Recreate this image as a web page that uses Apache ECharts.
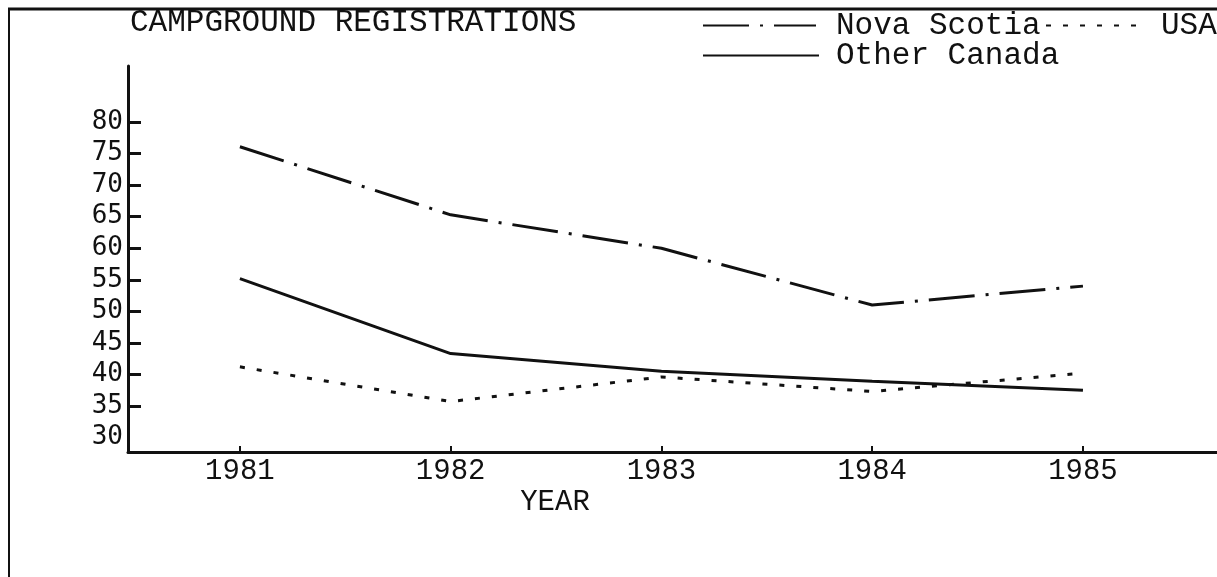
<!DOCTYPE html>
<html>
<head>
<meta charset="utf-8">
<title>Campground Registrations</title>
<script src="https://cdn.jsdelivr.net/npm/echarts@6/dist/echarts.min.js"></script>
<style>
    html, body { margin: 0; padding: 0; background: #fff; }
    #chartContainer { width: 1217px; height: 577px; }
</style>
</head>
<body>
<div id="chartContainer"></div>
<script>
// Values
const years = [1981, 1982, 1983, 1984, 1985];
const novaScotia = [76.1, 65.3, 60.0, 51.0, 54.0];
const usa = [41.2, 35.7, 39.6, 37.3, 40.2];
const otherCanada = [55.2, 43.3, 40.5, 38.9, 37.5];
const yLabelValues = [30, 35, 40, 45, 50, 55, 60, 65, 70, 75, 80];
const yTickValues = [35, 40, 45, 50, 55, 60, 65, 70, 75, 80];

const mono = '"Liberation Mono", "DejaVu Sans Mono", monospace';
const ink = '#111';

function toPoints(values) {
    return years.map((year, i) => [year, values[i]]);
}

// one legend box per entry so each can sit where the scan has it
function legendFor(name, left, top, iconWidth, gap) {
    return {
        data: [name],
        left: left,
        top: top,
        padding: 0,
        itemWidth: iconWidth,
        itemHeight: 14,
        selectedMode: false,
        itemStyle: { opacity: 0 },
        textStyle: { fontFamily: mono, fontSize: 31, color: ink, padding: [0, 0, 0, gap] }
    };
}

const myChart = echarts.init(document.getElementById('chartContainer'));

const option = {
    backgroundColor: '#fff',
    animation: false,
    grid: { left: 128, right: 0, top: 66, bottom: 125 },
    legend: [
        legendFor('Nova Scotia', 702, 10, 113, 15),
        legendFor('USA', 1045, 10, 92, 18),
        legendFor('Other Canada', 702, 40, 116, 12)
    ],
    xAxis: {
        type: 'value',
        min: 1980.469,
        max: 1985.636,
        splitLine: { show: false },
        axisLine: { lineStyle: { color: ink, width: 3 } },
        axisTick: { inside: true, length: 6, lineStyle: { color: ink, width: 2 }, customValues: years },
        axisLabel: {
            customValues: years,
            formatter: v => String(v),
            fontFamily: mono, fontSize: 29, color: ink, margin: 5
        }
    },
    yAxis: {
        type: 'value',
        min: 27.7,
        max: 88.9,
        splitLine: { show: false },
        axisLine: { show: true, lineStyle: { color: ink, width: 3 } },
        axisTick: { inside: true, length: 13, lineStyle: { color: ink, width: 3 }, customValues: yTickValues },
        axisLabel: {
            customValues: yLabelValues,
            fontFamily: '"DejaVu Sans Mono", monospace', fontSize: 26, color: ink, margin: 5
        }
    },
    series: [
        {
            name: 'Nova Scotia', type: 'line', symbol: 'none',
            data: toPoints(novaScotia),
            itemStyle: { color: ink },
            lineStyle: { color: ink, width: 3, type: [46, 11, 3, 11] }
        },
        {
            name: 'USA', type: 'line', symbol: 'none',
            data: toPoints(usa),
            itemStyle: { color: ink },
            lineStyle: { color: ink, width: 3, type: [5, 12] }
        },
        {
            name: 'Other Canada', type: 'line', symbol: 'none',
            data: toPoints(otherCanada),
            itemStyle: { color: ink },
            lineStyle: { color: ink, width: 3 }
        }
    ],
    graphic: [
        // page frame from the scan
        { type: 'line', shape: { x1: 8, y1: 9, x2: 1217, y2: 9 }, style: { stroke: ink, lineWidth: 3 } },
        { type: 'line', shape: { x1: 9, y1: 9, x2: 9, y2: 577 }, style: { stroke: ink, lineWidth: 2 } },
        {
            type: 'text', x: 130, y: 23,
            style: { text: 'CAMPGROUND REGISTRATIONS', fontFamily: mono, fontSize: 31, fill: ink, verticalAlign: 'middle' }
        },
        {
            type: 'text', x: 555, y: 502,
            style: { text: 'YEAR', fontFamily: mono, fontSize: 29, fill: ink, align: 'center', verticalAlign: 'middle' }
        }
    ]
};

myChart.setOption(option);
</script>
</body>
</html>
